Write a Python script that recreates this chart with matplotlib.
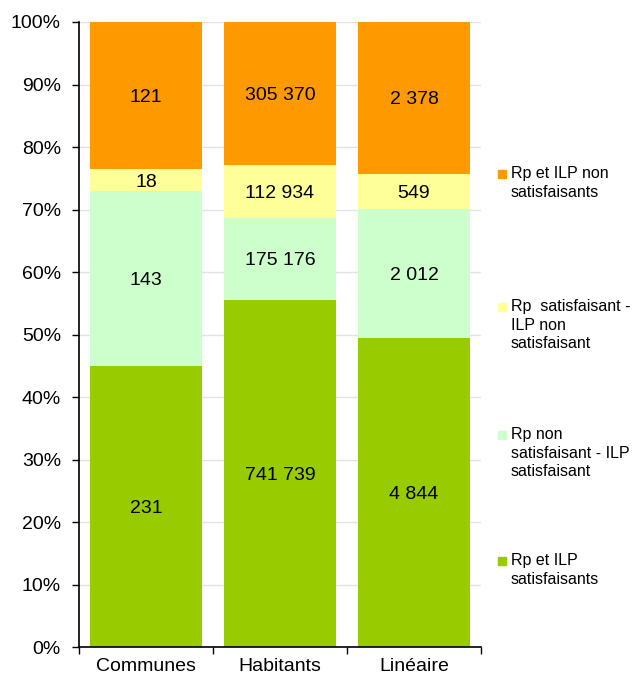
import matplotlib.pyplot as plt
from matplotlib.patches import Rectangle

plt.rcParams['font.family'] = ['Liberation Sans', 'DejaVu Sans']

categories = ['Communes', 'Habitants', 'Linéaire']
series_names = ['Rp et ILP\nsatisfaisants',
                'Rp non\nsatisfaisant - ILP\nsatisfaisant',
                'Rp  satisfaisant -\nILP non\nsatisfaisant',
                'Rp et ILP non\nsatisfaisants']
ok_both = [231, 741739, 4844]
rp_nok_ilp_ok = [143, 175176, 2012]
rp_ok_ilp_nok = [18, 112934, 549]
nok_both = [121, 305370, 2378]
colors = ['#99cc00', '#ccffcc', '#ffff99', '#ff9900']


def fmt(v):
    return f'{v:,}'.replace(',', ' ')


fig = plt.figure(figsize=(6.35, 6.79), dpi=100)
ax = fig.add_axes([0.1244, 0.0471, 0.633, 0.9205])

series = [ok_both, rp_nok_ilp_ok, rp_ok_ilp_nok, nok_both]
totals = [sum(s[i] for s in series) for i in range(len(categories))]
x = list(range(len(categories)))
bottom = [0.0] * len(categories)
for vals, col in zip(series, colors):
    pct = [v / t * 100 for v, t in zip(vals, totals)]
    ax.bar(x, pct, width=0.83, bottom=bottom, color=col, zorder=2)
    for i in x:
        ax.text(i, bottom[i] + pct[i] / 2, fmt(vals[i]), ha='center',
                va='center_baseline', fontsize=14, zorder=3)
    bottom = [b + p for b, p in zip(bottom, pct)]

ax.set_xlim(-0.5, 2.5)
ax.set_ylim(0, 100)
ax.set_yticks(range(0, 101, 10))
ax.set_yticklabels([f'{t}%' for t in range(0, 101, 10)], fontsize=14)
ax.set_xticks(x)
ax.set_xticklabels(categories, fontsize=14)
ax.set_xticks([-0.5, 0.5, 1.5, 2.5], minor=True)
ax.tick_params(axis='x', which='major', length=0, pad=8)
ax.tick_params(axis='x', which='minor', length=5, width=1, direction='out')
ax.tick_params(axis='y', length=5, width=1, direction='out', pad=8)
ax.yaxis.grid(True, color='#e3e3e3', lw=1, zorder=0)
ax.set_axisbelow(True)
for s in ['top', 'right']:
    ax.spines[s].set_visible(False)
for s in ['left', 'bottom']:
    ax.spines[s].set_linewidth(1.2)

# legend, placed by hand to keep the original's spacing
leg_y = [557, 431, 303, 170]
for name, col, y in zip(series_names, colors, leg_y):
    fig.add_artist(Rectangle((498 / 635, 1 - (y + 8) / 679), 8 / 635, 8 / 679,
                             transform=fig.transFigure, color=col))
    fig.text(511 / 635, 1 - (y - 4) / 679, name, fontsize=11.5, va='top',
             ha='left', linespacing=1.3)

fig.savefig('out.png', dpi=100)
